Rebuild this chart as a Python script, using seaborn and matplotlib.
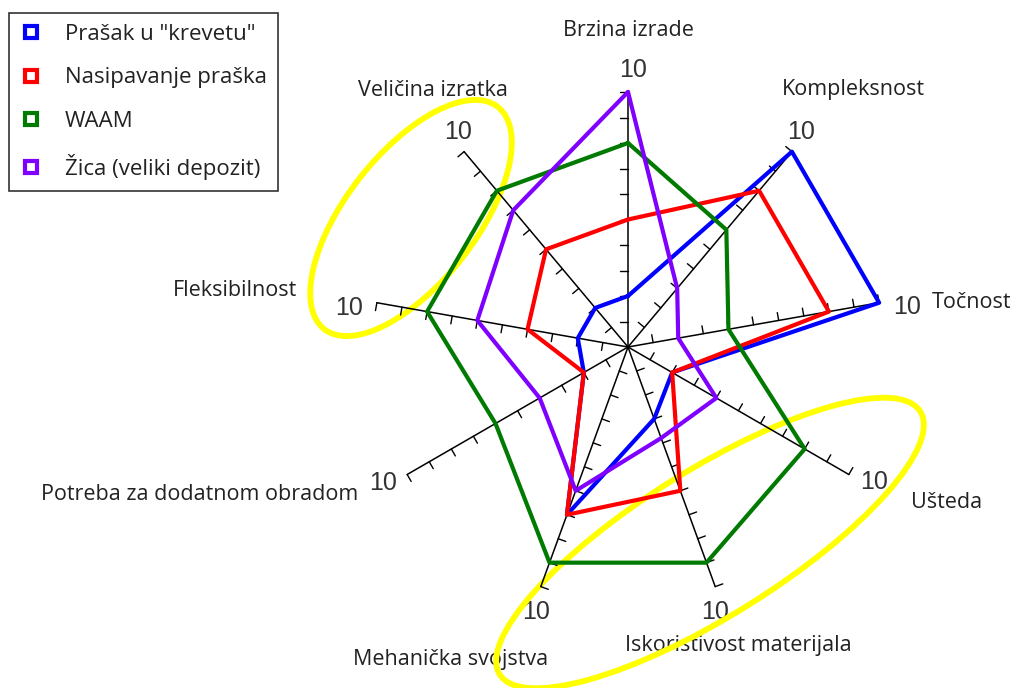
import numpy as np
import pandas as pd
import matplotlib.pyplot as plt
import seaborn as sns
from matplotlib.lines import Line2D
from matplotlib.patches import Ellipse

# ---- data (scale 0-10) ----
categories = ["Brzina izrade", "Kompleksnost", "Točnost", "Ušteda",
              "Iskoristivost materijala", "Mehanička svojstva",
              "Potreba za dodatnom obradom", "Fleksibilnost", "Veličina izratka"]
series_names = ['Prašak u "krevetu"', "Nasipavanje praška", "WAAM",
                "Žica (veliki depozit)"]
prasak_krevet = [2, 10, 10, 2, 3, 7, 2, 2, 2]
nasipavanje = [5, 8, 8, 2, 6, 7, 2, 4, 5]
waam = [8, 6, 4, 8, 9, 9, 6, 8, 8]
zica = [10, 3, 2, 4, 3.8, 6, 4, 6, 7]
scale_max = 10
end_tick_label = "10"

colors = ["#0000ff", "#ff0000", "#007a00", "#7f00ff"]
draw_order = [2, 3, 1, 0]  # green first, blue on top

# ---- layout (pixel positions from the reference) ----
W, H = 1015, 688
CX, CY = 628, 347
U = 25.5  # pixels per unit


def px(x, y):
    return (x - CX) / U, (CY - y) / U


cat_label_pos = [(628, 30), (853, 90), (972, 303), (947, 503), (738, 645),
                 (451, 660), (200, 495), (235, 290), (433, 90)]
ten_label_pos = [(633, 70), (801, 132), (907, 307), (874, 482), (715, 612),
                 (536, 612), (383, 483), (349, 308), (458, 132)]

sns.set_style("white")
plt.rcParams["font.family"] = ["Open Sans", "DejaVu Sans"]

fig = plt.figure(figsize=(W / 100, H / 100), dpi=100)
ax = fig.add_axes([0, 0, 1, 1])
ax.set_xlim(-CX / U, (W - CX) / U)
ax.set_ylim(-(H - CY) / U, CY / U)
ax.axis("off")

n = len(categories)
theta = np.radians(np.arange(n) * 360 / n)
ux, uy = np.sin(theta), np.cos(theta)

# spokes and ticks
tick_len = 8 / U
for k in range(n):
    ax.plot([0, scale_max * ux[k]], [0, scale_max * uy[k]], color="black",
            lw=1.1, zorder=2)
    pxk, pyk = -np.cos(theta[k]), np.sin(theta[k])
    for r in range(1, scale_max + 1):
        x0, y0 = r * ux[k], r * uy[k]
        ax.plot([x0, x0 + tick_len * pxk], [y0, y0 + tick_len * pyk],
                color="black", lw=1.0, zorder=2)

# series polygons
rows = []
for name, vals in zip(series_names, [prasak_krevet, nasipavanje, waam, zica]):
    v = np.array(vals + vals[:1], dtype=float)
    idx = np.r_[np.arange(n), 0]
    for step, (vv, i) in enumerate(zip(v, idx)):
        rows.append({"series": name, "step": step,
                     "x": vv * ux[i], "y": vv * uy[i]})
df = pd.DataFrame(rows)

for j in draw_order:
    sub = df[df["series"] == series_names[j]]
    sns.lineplot(data=sub, x="x", y="y", sort=False, estimator=None,
                 color=colors[j], lw=3.0, ax=ax, legend=False, zorder=3 + j)
ax.set_xlabel("")
ax.set_ylabel("")

# highlight ellipses
ell_color = "#ffff00"
e1 = Ellipse(px(411, 218), 282 / U, 130 / U, angle=52, fill=False,
             edgecolor=ell_color, lw=4.2, zorder=1)
e2 = Ellipse(px(710, 543), 496 / U, 146 / U, angle=32, fill=False,
             edgecolor=ell_color, lw=4.2, zorder=1)
ax.add_patch(e1)
ax.add_patch(e2)

# labels
for lab, (x, y) in zip(categories, cat_label_pos):
    ax.text(*px(x, y), lab, ha="center", va="center", fontsize=15.5,
            color="#222222", zorder=0.5)
for (x, y) in ten_label_pos:
    ax.text(*px(x, y), end_tick_label, ha="center", va="center",
            fontsize=18, color="#333333", family="Liberation Sans",
            zorder=0.5)

handles = [Line2D([], [], marker="s", linestyle="none", markersize=9,
                  markerfacecolor="white", markeredgecolor=c,
                  markeredgewidth=3) for c in colors]
leg = fig.legend(handles, series_names, loc="upper left",
                 bbox_to_anchor=(9 / W, 1 - 13 / H),
                 fontsize=16, frameon=True, fancybox=False,
                 handlelength=1.0, handletextpad=1.0, labelspacing=1.0,
                 borderpad=0.5, borderaxespad=0)
leg.get_frame().set_edgecolor("black")
leg.get_frame().set_linewidth(1.2)
for t in leg.get_texts():
    t.set_color("#222222")

fig.savefig("out.png", dpi=100)
